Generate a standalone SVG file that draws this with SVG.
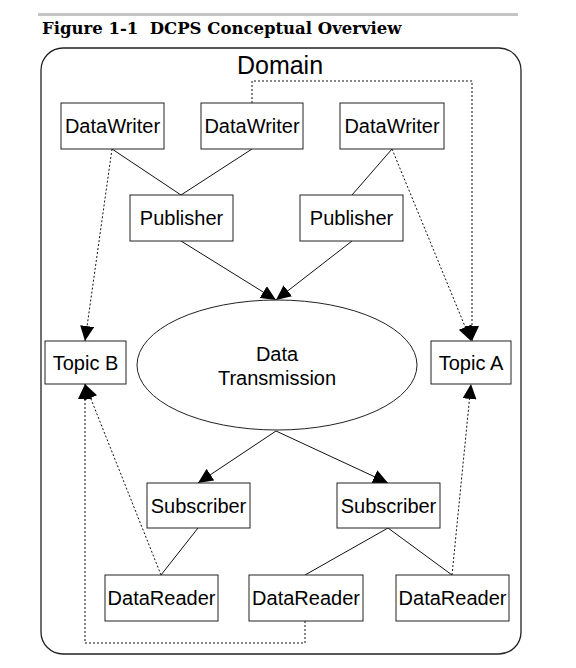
<svg xmlns="http://www.w3.org/2000/svg" width="576" height="668" viewBox="0 0 576 668">
<style>
.box{fill:#fff;stroke:#222;stroke-width:1}
.lbl{font-family:"Liberation Sans",Arial,sans-serif;font-size:20px;fill:#000;text-anchor:middle}
.ln{stroke:#111;stroke-width:1;fill:none}
.dot{stroke:#111;stroke-width:1;fill:none;stroke-dasharray:2,2}
</style>
<defs>
<marker id="ah" markerUnits="userSpaceOnUse" markerWidth="16" markerHeight="14" refX="15" refY="7" orient="auto">
<path d="M0,0 L15,7 L0,14 Z" fill="#000"/>
</marker>
</defs>
<rect x="38" y="13" width="480" height="3" fill="#c4c4c4"/>
<text x="42" y="34" font-family="DejaVu Serif,serif" font-weight="bold" font-size="16.5" xml:space="preserve" style="white-space:pre">Figure 1-1  DCPS Conceptual Overview</text>
<rect id="domain" x="41" y="48" width="480" height="606" rx="22" ry="22" fill="none" stroke="#222" stroke-width="1.3"/>
<text class="lbl" x="280" y="74" style="font-size:25px">Domain</text>
<g id="connectors">
<line class="ln" x1="112" y1="149" x2="181" y2="195"/>
<line class="ln" x1="252" y1="149" x2="181" y2="195"/>
<line class="ln" x1="392" y1="149" x2="352" y2="195"/>
<line class="ln" x1="181" y1="241" x2="276" y2="300" marker-end="url(#ah)"/>
<line class="ln" x1="352" y1="241" x2="276" y2="300" marker-end="url(#ah)"/>
<line class="ln" x1="276" y1="431" x2="198" y2="483" marker-end="url(#ah)"/>
<line class="ln" x1="276" y1="431" x2="388" y2="483" marker-end="url(#ah)"/>
<line class="ln" x1="198" y1="528" x2="161" y2="575"/>
<line class="ln" x1="388" y1="528" x2="305" y2="575"/>
<line class="ln" x1="388" y1="528" x2="452" y2="575"/>
<line class="dot" x1="112" y1="149" x2="85" y2="341" marker-end="url(#ah)"/>
<line class="dot" x1="392" y1="149" x2="471" y2="341" marker-end="url(#ah)"/>
<polyline class="dot" points="252,103 252,81 472,81 472,341" marker-end="url(#ah)"/>
<line class="dot" x1="161" y1="575" x2="85" y2="384" marker-end="url(#ah)"/>
<line class="dot" x1="452" y1="575" x2="471" y2="384" marker-end="url(#ah)"/>
<polyline class="dot" points="305,621 305,643 85,643 85,384" marker-end="url(#ah)"/>
</g>
<g id="dw1"><rect class="box" x="61" y="103" width="103" height="46"/><text class="lbl" x="112.5" y="133">DataWriter</text></g>
<g id="dw2"><rect class="box" x="201" y="103" width="102" height="46"/><text class="lbl" x="252" y="133">DataWriter</text></g>
<g id="dw3"><rect class="box" x="340" y="103" width="104" height="46"/><text class="lbl" x="392" y="133">DataWriter</text></g>
<g id="pub1"><rect class="box" x="130" y="195" width="103" height="46"/><text class="lbl" x="181.5" y="225">Publisher</text></g>
<g id="pub2"><rect class="box" x="300" y="195" width="103" height="46"/><text class="lbl" x="351.5" y="225">Publisher</text></g>
<g id="topicB"><rect class="box" x="45" y="341" width="81" height="43"/><text class="lbl" x="85.5" y="370">Topic B</text></g>
<g id="topicA"><rect class="box" x="431" y="341" width="80" height="43"/><text class="lbl" x="471" y="370">Topic A</text></g>
<g id="dt"><ellipse cx="277" cy="365" rx="140" ry="65" fill="#fff" stroke="#222" stroke-width="1"/><text class="lbl" x="277" y="361">Data</text><text class="lbl" x="277" y="385">Transmission</text></g>
<g id="sub1"><rect class="box" x="147" y="483" width="103" height="45"/><text class="lbl" x="198.5" y="513">Subscriber</text></g>
<g id="sub2"><rect class="box" x="337" y="483" width="103" height="45"/><text class="lbl" x="388.5" y="513">Subscriber</text></g>
<g id="dr1"><rect class="box" x="105" y="575" width="113" height="46"/><text class="lbl" x="161.5" y="605">DataReader</text></g>
<g id="dr2"><rect class="box" x="249" y="575" width="114" height="46"/><text class="lbl" x="306" y="605">DataReader</text></g>
<g id="dr3"><rect class="box" x="396" y="575" width="113" height="46"/><text class="lbl" x="452.5" y="605">DataReader</text></g>
</svg>
